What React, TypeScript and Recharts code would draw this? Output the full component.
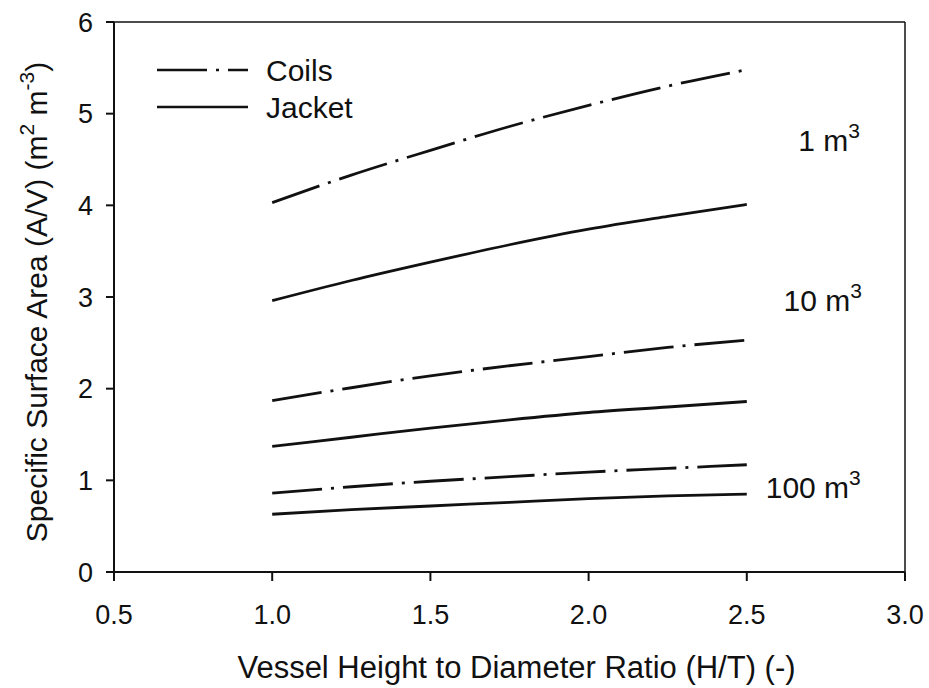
import { Label, Legend, Line, LineChart, ReferenceDot, ReferenceLine, XAxis, YAxis } from "recharts";

// H/T ratio sampled along each curve
const ratio = [1.0, 1.25, 1.5, 1.75, 2.0, 2.25, 2.5];

// specific surface area (m2/m3)
const coils1 = [4.03, 4.33, 4.6, 4.86, 5.09, 5.3, 5.48];
const jacket1 = [2.96, 3.18, 3.38, 3.57, 3.74, 3.88, 4.01];
const coils10 = [1.87, 2.01, 2.14, 2.25, 2.35, 2.45, 2.53];
const jacket10 = [1.37, 1.47, 1.57, 1.66, 1.74, 1.8, 1.86];
const coils100 = [0.86, 0.93, 0.99, 1.04, 1.09, 1.13, 1.17];
const jacket100 = [0.63, 0.68, 0.72, 0.76, 0.8, 0.83, 0.85];

const xTicks = [0.5, 1.0, 1.5, 2.0, 2.5, 3.0];
const yTicks = [0, 1, 2, 3, 4, 5, 6];

const volumes = ["1", "10", "100"];

const rows = ratio.map((r, i) => ({
  ratio: r,
  coils1: coils1[i],
  jacket1: jacket1[i],
  coils10: coils10[i],
  jacket10: jacket10[i],
  coils100: coils100[i],
  jacket100: jacket100[i],
}));

const FONT = "'Liberation Sans', Arial, sans-serif";
const INK = "#111";
const COIL_DASH = "50 9 3 9";

// where the volume tags sit, in data units
const tagSpots = [
  { x: 2.76, y: 4.71 },
  { x: 2.74, y: 2.97 },
  { x: 2.71, y: 0.93 },
];

const series = [
  { key: "coils1", dash: COIL_DASH },
  { key: "jacket1" },
  { key: "coils10", dash: COIL_DASH },
  { key: "jacket10" },
  { key: "coils100", dash: COIL_DASH },
  { key: "jacket100" },
];

const legendItems = [
  { name: "Coils", dash: COIL_DASH },
  { name: "Jacket", dash: undefined },
];

function LegendBox() {
  return (
    <svg width={260} height={100} style={{ display: "block", overflow: "visible" }}>
      {legendItems.map((it, i) => (
        <g key={it.name} transform={`translate(0, ${20 + i * 37})`}>
          <line x1={0} y1={14} x2={91} y2={14} stroke={INK} strokeWidth={2.6} strokeDasharray={it.dash} />
          <text x={109} y={25} fontSize={30} fontFamily={FONT} fill={INK}>
            {it.name}
          </text>
        </g>
      ))}
    </svg>
  );
}

function VolumeTag(props: any) {
  const { viewBox, value } = props;
  const cx = viewBox.x + (viewBox.width || 0) / 2;
  const cy = viewBox.y + (viewBox.height || 0) / 2;
  return (
    <text x={cx} y={cy + 11} textAnchor="middle" fontSize={30} fontFamily={FONT} fill={INK}>
      {value} m
      <tspan dy={-13} fontSize={21}>3</tspan>
    </text>
  );
}

function YTitle(props: any) {
  const { viewBox } = props;
  const cx = viewBox.x + 47;
  const cy = viewBox.y + viewBox.height / 2 + 5;
  return (
    <text transform={`translate(${cx}, ${cy}) rotate(-90)`} textAnchor="middle" fontSize={30} fontFamily={FONT} fill={INK}>
      Specific Surface Area (A/V) (m
      <tspan dy={-13} fontSize={21}>2</tspan>
      <tspan dy={13}> m</tspan>
      <tspan dy={-13} fontSize={21}>-3</tspan>
      <tspan dy={13}>)</tspan>
    </text>
  );
}

function XTitle(props: any) {
  const { viewBox } = props;
  return (
    <text x={viewBox.x + viewBox.width / 2 + 7} y={viewBox.y + 106} textAnchor="middle" fontSize={31} fontFamily={FONT} fill={INK}>
      Vessel Height to Diameter Ratio (H/T) (-)
    </text>
  );
}

export default function App() {
  const tickStyle = { fontSize: 27, fontFamily: FONT, fill: INK };
  return (
    <div style={{ position: "absolute", left: 0, top: 0, background: "#fff" }}>
      <LineChart width={929} height={688} data={rows} margin={{ top: 22, right: 24, bottom: 0, left: 0 }}>
        <XAxis
          dataKey="ratio"
          type="number"
          domain={[0.5, 3.0]}
          ticks={xTicks}
          tickFormatter={(v: number) => v.toFixed(1)}
          height={116}
          tick={tickStyle}
          tickSize={9}
          tickMargin={24}
          stroke={INK}
          strokeWidth={2}
        >
          <Label content={<XTitle />} />
        </XAxis>
        <YAxis
          type="number"
          domain={[0, 6]}
          ticks={yTicks}
          width={114}
          tick={tickStyle}
          tickSize={8}
          tickMargin={13}
          stroke={INK}
          strokeWidth={2}
        >
          <Label content={<YTitle />} />
        </YAxis>
        <ReferenceLine y={6} stroke={INK} strokeWidth={1.5} />
        <ReferenceLine x={3.0} stroke={INK} strokeWidth={1.5} />
        {series.map((s) => (
          <Line
            key={s.key}
            dataKey={s.key}
            type="monotone"
            stroke={INK}
            strokeWidth={2.8}
            strokeDasharray={s.dash}
            dot={false}
            activeDot={false}
            isAnimationActive={false}
          />
        ))}
        {volumes.map((v, i) => (
          <ReferenceDot
            key={v}
            x={tagSpots[i].x}
            y={tagSpots[i].y}
            r={0}
            fill="none"
            stroke="none"
            label={<VolumeTag value={v} />}
          />
        ))}
        <Legend
          layout="vertical"
          align="center"
          verticalAlign="middle"
          content={<LegendBox />}
          wrapperStyle={{ position: "absolute", left: 157, top: 36, width: 260 }}
        />
      </LineChart>
    </div>
  );
}
